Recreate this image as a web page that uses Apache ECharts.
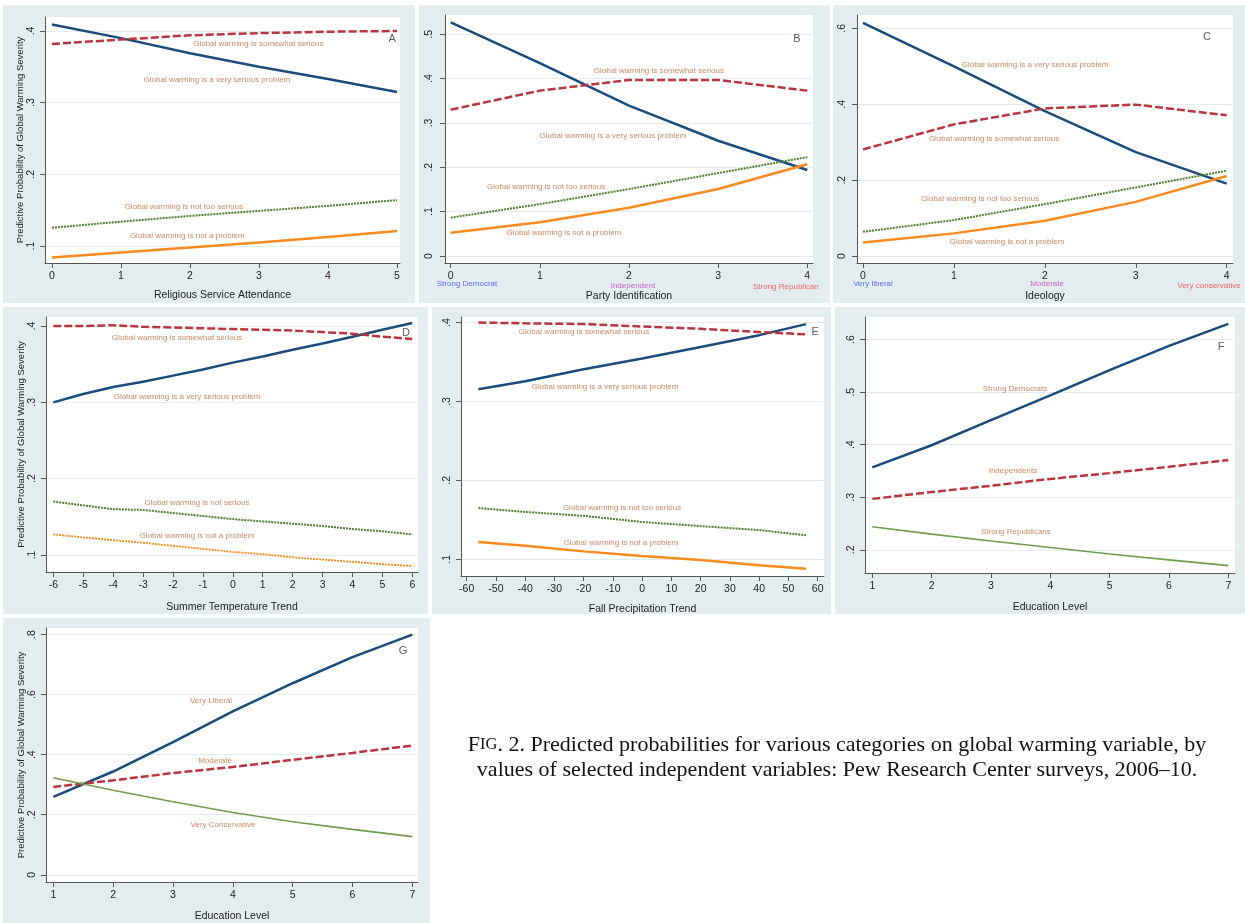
<!DOCTYPE html>
<html><head><meta charset="utf-8">
<script src="https://cdn.jsdelivr.net/npm/echarts@6/dist/echarts.min.js"></script>
<style>html,body{margin:0;padding:0;background:#fff}#c{width:1245px;height:923px}</style>
</head><body><div id="c"></div>
<script>
// ---------- Data ----------
// Panel A: Religious Service Attendance
const xA = [0, 1, 2, 3, 4, 5];
const A_verySerious = [0.409, 0.390, 0.369, 0.350, 0.333, 0.315];
const A_somewhat    = [0.382, 0.388, 0.394, 0.397, 0.399, 0.400];
const A_notToo      = [0.1255, 0.134, 0.142, 0.149, 0.156, 0.164];
const A_notProblem  = [0.084, 0.091, 0.098, 0.105, 0.1126, 0.121];
// Panel B: Party Identification
const xB = [0, 1, 2, 3, 4];
const B_verySerious = [0.527, 0.435, 0.339, 0.260, 0.194];
const B_somewhat    = [0.330, 0.373, 0.397, 0.397, 0.373];
const B_notToo      = [0.0865, 0.117, 0.151, 0.187, 0.223];
const B_notProblem  = [0.0526, 0.076, 0.109, 0.151, 0.207];
// Panel C: Ideology
const xC = [0, 1, 2, 3, 4];
const C_verySerious = [0.614, 0.500, 0.382, 0.274, 0.191];
const C_somewhat    = [0.281, 0.347, 0.389, 0.399, 0.371];
const C_notToo      = [0.064, 0.095, 0.137, 0.181, 0.225];
const C_notProblem  = [0.036, 0.060, 0.093, 0.143, 0.211];
// Panel D: Summer Temperature Trend
const xD = [-6, -5, -4, -3, -2, -1, 0, 1, 2, 3, 4, 5, 6];
const D_verySerious = [0.300, 0.311, 0.320, 0.327, 0.335, 0.343, 0.352, 0.360, 0.369, 0.377, 0.386, 0.395, 0.404];
const D_somewhat    = [0.400, 0.400, 0.401, 0.399, 0.398, 0.397, 0.396, 0.395, 0.394, 0.392, 0.390, 0.386, 0.383];
const D_notSerious  = [0.170, 0.165, 0.160, 0.159, 0.155, 0.151, 0.147, 0.144, 0.141, 0.138, 0.134, 0.131, 0.127];
const D_notProblem  = [0.127, 0.123, 0.1195, 0.116, 0.112, 0.108, 0.104, 0.101, 0.097, 0.094, 0.091, 0.088, 0.0855];
// Panel E: Fall Precipitation Trend
const xE = [-56, -40, -20, 0, 20, 40, 56];
const E_verySerious = [0.3155, 0.3256, 0.3408, 0.3544, 0.369, 0.384, 0.398];
const E_somewhat    = [0.400, 0.399, 0.398, 0.395, 0.392, 0.388, 0.385];
const E_notToo      = [0.165, 0.160, 0.155, 0.1473, 0.142, 0.137, 0.1304];
const E_notProblem  = [0.122, 0.117, 0.110, 0.104, 0.099, 0.0924, 0.088];
// Panel F: Education Level by party
const xF = [1, 2, 3, 4, 5, 6, 7];
const F_strongDem   = [0.357, 0.399, 0.447, 0.494, 0.542, 0.588, 0.630];
const F_indep       = [0.297, 0.310, 0.322, 0.335, 0.346, 0.358, 0.371];
const F_strongRep   = [0.244, 0.230, 0.217, 0.2045, 0.192, 0.181, 0.170];
// Panel G: Education Level by ideology
const xG = [1, 2, 3, 4, 5, 6, 7];
const G_veryLiberal = [0.2596, 0.344, 0.4417, 0.544, 0.638, 0.725, 0.800];
const G_moderate    = [0.2926, 0.3146, 0.339, 0.359, 0.383, 0.406, 0.4305];
const G_veryCons    = [0.3235, 0.2815, 0.243, 0.2076, 0.1766, 0.1513, 0.127];

// Tick labels
const ticksA_x = [0, 1, 2, 3, 4, 5];        const ticksA_y = [0.1, 0.2, 0.3, 0.4];
const ticksB_x = [0, 1, 2, 3, 4];           const ticksB_y = [0, 0.1, 0.2, 0.3, 0.4, 0.5];
const ticksC_x = [0, 1, 2, 3, 4];           const ticksC_y = [0, 0.2, 0.4, 0.6];
const ticksD_x = [-6, -5, -4, -3, -2, -1, 0, 1, 2, 3, 4, 5, 6]; const ticksD_y = [0.1, 0.2, 0.3, 0.4];
const ticksE_x = [-60, -50, -40, -30, -20, -10, 0, 10, 20, 30, 40, 50, 60]; const ticksE_y = [0.1, 0.2, 0.3, 0.4];
const ticksF_x = [1, 2, 3, 4, 5, 6, 7];     const ticksF_y = [0.2, 0.3, 0.4, 0.5, 0.6];
const ticksG_x = [1, 2, 3, 4, 5, 6, 7];     const ticksG_y = [0, 0.2, 0.4, 0.6, 0.8];

// Annotation texts [x, y, text] in data coordinates
const notesA = [[2.99, 0.382, 'Global warming is somewhat serious'], [2.39, 0.332, 'Global warming is a very serious problem'], [1.91, 0.1545, 'Global warming is not too serious'], [1.96, 0.114, 'Global warming is not a problem']];
const notesB = [[2.335, 0.418, 'Global warming is somewhat serious'], [1.82, 0.271, 'Global warming is a very serious problem'], [1.07, 0.156, 'Global warming is not too serious'], [1.27, 0.052, 'Global warming is not a problem']];
const notesC = [[1.892, 0.505, 'Global warming is a very serious problem'], [1.441, 0.308, 'Global warming is somewhat serious'], [1.287, 0.150, 'Global warming is not too serious'], [1.584, 0.037, 'Global warming is not a problem']];
const notesD = [[-1.866, 0.3843, 'Global warming is somewhat serious'], [-1.53, 0.307, 'Global warming is a very serious problem'], [-1.197, 0.168, 'Global warming is not serious'], [-1.197, 0.1248, 'Global warming is not a problem']];
const notesE = [[-19.9, 0.3877, 'Global warming is somewhat serious'], [-12.7, 0.318, 'Global warming is a very serious problem'], [-6.9, 0.1646, 'Global warming is not too serious'], [-7.25, 0.1203, 'Global warming is not a problem']];
const notesF = [[3.405, 0.5057, 'Strong Democrats'], [3.37, 0.3507, 'Independents'], [3.42, 0.2349, 'Strong Republicans']];
const notesG = [[3.636, 0.5795, 'Very Liberal'], [3.703, 0.3788, 'Moderate'], [3.836, 0.1679, 'Very Conservative']];
const catB = [[0.183, -0.063, 'Strong Democrat', 'blue'], [2.044, -0.068, 'Independent', 'mag'], [3.76, -0.070, 'Strong Republican', 'red']];
const catC = [[0.11, -0.0737, 'Very liberal', 'blue'], [2.024, -0.0737, 'Moderate', 'mag'], [3.806, -0.079, 'Very conservative', 'red']];
const letters = [[4.93, 0.389, 'A'], [3.885, 0.490, 'B'], [3.784, 0.576, 'C'], [5.79, 0.3908, 'D'], [59.1, 0.3877, 'E'], [6.877, 0.5854, 'F'], [6.844, 0.745, 'G']];

const yTitle = 'Predictive Probability of Global Warming Severity';

// ---------- Styles ----------
const COL = { navy: '#1b4b79', red: '#b8343f', green: '#4f7f33', orange: '#fb8a1e', green2: '#6e9c4c', note: '#b96a3d',
              blue: '#4049ff', mag: '#c23cc2', redTxt: '#ff3d3d' };
const FONT = 'Liberation Sans, Arial, sans-serif';
const SERIF = 'Liberation Serif, Times New Roman, serif';
const BG = '#e3edf0';

const sty = {
  navy:   { color: COL.navy, width: 2.5, type: 'solid' },
  dash:   { color: COL.red, width: 2.5, type: [8, 3] },
  green:  { color: COL.green, width: 2, type: [2, 1] },
  orange: { color: COL.orange, width: 2.5, type: 'solid' },
  orangeThin: { color: COL.orange, width: 1.8, type: [2, 1] },
  green2: { color: COL.green2, width: 1.6, type: 'solid' }
};

const panels = [
  { rect: [45, 17, 355, 246], xr: [-0.101, 5.043], yr: [0.0763, 0.4195], xt: ticksA_x, yt: ticksA_y, xName: 'Religious Service Attendance', xGap: 27, yName: yTitle,
    x: xA, lines: [[A_verySerious, sty.navy], [A_somewhat, sty.dash], [A_notToo, sty.green], [A_notProblem, sty.orange]], notes: notesA, letter: 0 },
  { rect: [445, 15, 368, 248], xr: [-0.064, 4.064], yr: [-0.0158, 0.5436], xt: ticksB_x, yt: ticksB_y, xName: 'Party Identification', xGap: 28, yName: '', yMargin: 10,
    x: xB, lines: [[B_verySerious, sty.navy], [B_somewhat, sty.dash], [B_notToo, sty.green], [B_notProblem, sty.orange]], notes: notesB, cats: catB, letter: 1 },
  { rect: [857, 15, 376, 248], xr: [-0.066, 4.069], yr: [-0.018, 0.635], xt: ticksC_x, yt: ticksC_y, xName: 'Ideology', xGap: 28, yName: '', yMargin: 9,
    x: xC, lines: [[C_verySerious, sty.navy], [C_somewhat, sty.dash], [C_notToo, sty.green], [C_notProblem, sty.orange]], notes: notesC, cats: catC, letter: 2 },
  { rect: [46, 317, 372, 255], xr: [-6.244, 6.19], yr: [0.0777, 0.4118], xt: ticksD_x, yt: ticksD_y, xName: 'Summer Temperature Trend', xGap: 30, yName: yTitle,
    x: xD, lines: [[D_verySerious, sty.navy], [D_somewhat, sty.dash], [D_notSerious, sty.green], [D_notProblem, sty.orangeThin]], notes: notesD, letter: 3 },
  { rect: [461, 317, 363, 259], xr: [-61.95, 62.15], yr: [0.0788, 0.407], xt: ticksE_x, yt: ticksE_y, xName: 'Fall Precipitation Trend', xGap: 28, yName: '',
    x: xE, lines: [[E_verySerious, sty.navy], [E_somewhat, sty.dash], [E_notToo, sty.green], [E_notProblem, sty.orange]], notes: notesE, letter: 4 },
  { rect: [865, 317, 370, 256], xr: [0.877, 7.113], yr: [0.156, 0.643], xt: ticksF_x, yt: ticksF_y, xName: 'Education Level', xGap: 29, yName: '',
    x: xF, lines: [[F_strongDem, sty.navy], [F_indep, sty.dash], [F_strongRep, sty.green2]], notes: notesF, letter: 5 },
  { rect: [46, 628, 372, 256], xr: [0.878, 7.095], yr: [-0.024, 0.822], xt: ticksG_x, yt: ticksG_y, xName: 'Education Level', xGap: 29, yName: yTitle,
    x: xG, lines: [[G_veryLiberal, sty.navy], [G_moderate, sty.dash], [G_veryCons, sty.green2]], notes: notesG, letter: 6 }
];

const panelBg = [[3, 5, 412, 298], [419, 5, 411, 298], [833, 5, 412, 298], [3, 307, 425, 307], [432, 307, 399, 307], [835, 307, 410, 307], [3, 618, 427, 305]];

function fmtY(v) {
  if (Math.abs(v) < 1e-9) return '0';
  return String(+v.toFixed(2)).replace(/^0\./, '.');
}

const grids = [], xAxes = [], yAxes = [], series = [];
panels.forEach((p, i) => {
  grids.push({ left: p.rect[0], top: p.rect[1], width: p.rect[2], height: p.rect[3], show: true, backgroundColor: '#ffffff', borderWidth: 0 });
  xAxes.push({
    type: 'value', gridIndex: i, min: p.xr[0], max: p.xr[1],
    name: p.xName, nameLocation: 'middle', nameGap: p.xGap, nameTextStyle: { fontSize: 10.5, color: '#222', fontFamily: FONT },
    axisLine: { show: true, onZero: false, lineStyle: { color: '#555', width: 1 } },
    axisTick: { show: true, length: 5, customValues: p.xt, lineStyle: { color: '#555' } },
    axisLabel: { customValues: p.xt, fontSize: 10.5, color: '#222', margin: 8, fontFamily: FONT },
    splitLine: { show: false }
  });
  yAxes.push({
    type: 'value', gridIndex: i, min: p.yr[0], max: p.yr[1],
    name: p.yName, nameLocation: 'middle', nameGap: 15, nameRotate: 90, nameTextStyle: { fontSize: 9.5, color: '#222', fontFamily: FONT },
    axisLine: { show: true, onZero: false, lineStyle: { color: '#555', width: 1 } },
    axisTick: { show: true, length: 5, customValues: p.yt, lineStyle: { color: '#555' } },
    axisLabel: { customValues: p.yt, rotate: 90, formatter: fmtY, fontSize: 10.5, color: '#222', margin: p.yMargin || 8, fontFamily: FONT },
    splitLine: { show: true, lineStyle: { color: BG, width: 1.2 } }
  });
  p.lines.forEach(([vals, ls]) => {
    series.push({
      type: 'line', xAxisIndex: i, yAxisIndex: i, showSymbol: false, symbol: 'none', silent: true, animation: false,
      lineStyle: { color: ls.color, width: ls.width, type: ls.type }, itemStyle: { color: ls.color },
      data: p.x.map((xv, k) => [xv, vals[k]]), z: 3
    });
  });
  const notes = p.notes.map(n => ({ name: n[2], value: [n[0], n[1]] }));
  (p.cats || []).forEach(c => {
    const col = c[3] === 'blue' ? COL.blue : c[3] === 'mag' ? COL.mag : COL.redTxt;
    notes.push({ name: c[2], value: [c[0], c[1]], label: { color: col, fontSize: 8 } });
  });
  const L = letters[p.letter];
  notes.push({ name: L[2], value: [L[0], L[1]], label: { color: '#333', fontSize: 11 } });
  series.push({
    type: 'scatter', xAxisIndex: i, yAxisIndex: i, symbol: 'circle', symbolSize: 1, silent: true, clip: false, animation: false,
    itemStyle: { color: 'rgba(0,0,0,0)' }, z: 5,
    label: { show: true, position: 'inside', formatter: '{b}', fontSize: 8, color: COL.note, fontFamily: FONT },
    emphasis: { disabled: true },
    data: notes
  });
});

const graphic = panelBg.map(r => ({ type: 'rect', shape: { x: r[0], y: r[1], width: r[2], height: r[3] }, style: { fill: BG }, z: -100, silent: true }));
graphic.push({
  type: 'text', x: 837, y: 745, z: 10, silent: true,
  style: { text: '{a|F}{b|IG}{a|. 2. Predicted probabilities for various categories on global warming variable, by}',
    rich: { a: { fontSize: 22, fontFamily: SERIF, fill: '#111' }, b: { fontSize: 16.5, fontFamily: SERIF, fill: '#111' } },
    align: 'center', verticalAlign: 'middle' }
});
graphic.push({
  type: 'text', x: 837, y: 770, z: 10, silent: true,
  style: { text: 'values of selected independent variables: Pew Research Center surveys, 2006\u201310.', fontSize: 22, fontFamily: SERIF, fill: '#111', align: 'center', verticalAlign: 'middle' }
});

const chart = echarts.init(document.getElementById('c'), null, { renderer: 'canvas', width: 1245, height: 923 });
chart.setOption({
  backgroundColor: '#ffffff',
  animation: false,
  textStyle: { fontFamily: FONT },
  grid: grids, xAxis: xAxes, yAxis: yAxes, series: series, graphic: graphic
});
</script></body></html>
